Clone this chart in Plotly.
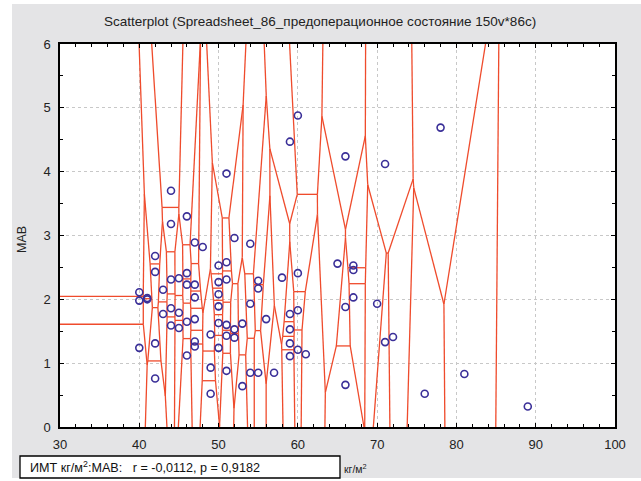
import numpy as np
import plotly.graph_objects as go

# ---- data (ИМТ кг/м², MAB) ----
imt = [40, 40, 40, 41, 41, 42, 42, 42, 42, 43, 43,
       44, 44, 44, 44, 44, 45, 45, 45, 46, 46, 46, 46, 46,
       47, 47, 47, 47, 47, 47, 48, 49, 49, 49,
       50, 50, 50, 50, 50, 50, 51, 51, 51, 51, 51, 51,
       52, 52, 52, 53, 53, 54, 54, 54, 55, 55, 55, 56, 57, 58,
       59, 59, 59, 59, 59, 60, 60, 60, 60, 61,
       65, 66, 66, 66, 67, 67, 67, 70, 71, 71, 72, 76, 78, 81, 89]
mab = [2.11, 1.98, 1.24, 2.02, 2.00, 2.68, 2.43, 1.31, 0.76, 2.15, 1.77,
       3.70, 3.18, 2.31, 1.86, 1.59, 2.33, 1.79, 1.55, 3.30, 2.41, 2.23, 1.65, 1.12,
       2.89, 2.23, 2.03, 1.69, 1.34, 1.26, 2.82, 1.45, 0.93, 0.52,
       2.53, 2.27, 2.08, 1.89, 1.63, 1.24, 3.97, 2.58, 2.31, 1.60, 1.43, 0.88,
       2.96, 1.53, 1.40, 1.62, 0.64, 2.87, 1.93, 0.85, 2.29, 2.17, 0.85, 1.69, 0.85, 2.34,
       4.47, 1.77, 1.53, 1.31, 1.11, 4.88, 2.41, 1.83, 1.21, 1.14,
       2.56, 4.24, 1.88, 0.66, 2.53, 2.46, 2.03, 1.93, 4.12, 1.33, 1.41, 0.52, 4.69, 0.83, 0.32]

title_text = "Scatterplot (Spreadsheet_86_предоперационное состояние 150v*86c)"
y_title = "MAB"
stat_text = "ИМТ кг/м<sup>2</sup>:MAB:\u00a0\u00a0\u00a0r = -0,0112, p = 0,9182"
unit_text = "кг/м<sup>2</sup>"
x_range = [30, 100]
y_range = [0, 6]

# ---- Voronoi tessellation (half-plane clipping within the axis box) ----
pts = []
for p in zip(imt, mab):
    if p not in pts:
        pts.append(p)
P = np.array(pts, dtype=float)
X0, X1 = x_range
Y0, Y1 = y_range


def clip(poly, a, b, c):
    out = []
    n = len(poly)
    for i in range(n):
        p, q = poly[i], poly[(i + 1) % n]
        fp = a * p[0] + b * p[1] - c
        fq = a * q[0] + b * q[1] - c
        if fp <= 0:
            out.append(p)
        if fp * fq < 0:
            t = fp / (fp - fq)
            out.append((p[0] + t * (q[0] - p[0]), p[1] + t * (q[1] - p[1])))
    return out


def on_border(p, q, eps=1e-9):
    for k, v in ((0, X0), (0, X1), (1, Y0), (1, Y1)):
        if abs(p[k] - v) < eps and abs(q[k] - v) < eps:
            return True
    return False


edges = set()
for i, pi in enumerate(P):
    poly = [(X0, Y0), (X1, Y0), (X1, Y1), (X0, Y1)]
    for j, pj in enumerate(P):
        if i == j:
            continue
        a, b = 2 * (pj - pi)
        c = pj @ pj - pi @ pi
        poly = clip(poly, a, b, c)
        if not poly:
            break
    for k in range(len(poly)):
        p, q = poly[k], poly[(k + 1) % len(poly)]
        if on_border(p, q):
            continue
        if abs(p[0] - q[0]) < 1e-9 and abs(p[1] - q[1]) < 1e-9:
            continue
        key = tuple(sorted([(round(p[0], 6), round(p[1], 6)), (round(q[0], 6), round(q[1], 6))]))
        edges.add(key)

lx, ly = [], []
for (a, b) in edges:
    lx += [a[0], b[0], None]
    ly += [a[1], b[1], None]

fig = go.Figure()
fig.add_trace(go.Scatter(x=lx, y=ly, mode="lines",
                         line=dict(color="#ef4b2c", width=1.3),
                         hoverinfo="skip", showlegend=False))
fig.add_trace(go.Scatter(x=imt, y=mab, mode="markers",
                         marker=dict(symbol="circle-open", size=7, color="#3a2f98",
                                     line=dict(width=1.6, color="#3a2f98")),
                         showlegend=False))

W, H = 641, 481
L, R, T, B = 60, 26, 44, 54
pw, ph = W - L - R, H - T - B


def px(xp):
    return (xp - L) / pw


def py(yp):
    return (H - B - yp) / ph


font_fam = "Liberation Sans, Arial, sans-serif"
axis_common = dict(showline=True, linecolor="black", linewidth=1.5, mirror="allticks",
                   ticks="inside", ticklen=4, tickcolor="black", tickwidth=1,
                   showgrid=True, gridcolor="#c8c8c8", griddash="dot", gridwidth=1,
                   zeroline=False, tickfont=dict(family=font_fam, size=13, color="#222"))

fig.update_xaxes(range=x_range, dtick=10, tick0=0,
                 minor=dict(dtick=2, ticks="inside", ticklen=3, tickcolor="black", showgrid=False),
                 ticklabelstandoff=5, **axis_common)
fig.update_yaxes(range=y_range, dtick=1, tick0=0,
                 minor=dict(dtick=0.5, ticks="inside", ticklen=3, tickcolor="black", showgrid=False),
                 ticklabelstandoff=5, **axis_common)

shapes = [
    # white page margins around the grey panel
    dict(type="rect", xref="paper", yref="paper", x0=px(0), x1=px(12), y0=py(H), y1=py(0),
         fillcolor="white", line_width=0, layer="below"),
    dict(type="rect", xref="paper", yref="paper", x0=px(0), x1=px(W), y0=py(4), y1=py(0),
         fillcolor="white", line_width=0, layer="below"),
    dict(type="rect", xref="paper", yref="paper", x0=px(0), x1=px(W), y0=py(H), y1=py(478),
         fillcolor="white", line_width=0, layer="below"),
    # statistics box
    dict(type="rect", xref="paper", yref="paper", x0=px(20), x1=px(340), y0=py(478), y1=py(456),
         fillcolor="white", line=dict(color="black", width=1.3)),
]

annotations = [
    dict(text=title_text, xref="paper", yref="paper", x=px(320), y=py(22),
         showarrow=False, font=dict(family=font_fam, size=13.5, color="#222"),
         xanchor="center", yanchor="middle"),
    dict(text=y_title, xref="paper", yref="paper", x=px(22), y=py(240), textangle=-90,
         showarrow=False, font=dict(family=font_fam, size=12.5, color="#222"),
         xanchor="center", yanchor="middle"),
    dict(text=stat_text, xref="paper", yref="paper", x=px(28), y=py(467),
         showarrow=False, font=dict(family=font_fam, size=12.6, color="#111"),
         xanchor="left", yanchor="middle"),
    dict(text=unit_text, xref="paper", yref="paper", x=px(342), y=py(468),
         showarrow=False, font=dict(family=font_fam, size=10.5, color="#222"),
         xanchor="left", yanchor="middle"),
]

fig.update_layout(width=W, height=H, margin=dict(l=L, r=R, t=T, b=B),
                  paper_bgcolor="#e4e4e6", plot_bgcolor="white",
                  shapes=shapes, annotations=annotations, showlegend=False)

fig.write_html("out.html", config={"displayModeBar": False},
               post_script="document.body.style.margin='0';document.body.style.overflow='hidden';")
